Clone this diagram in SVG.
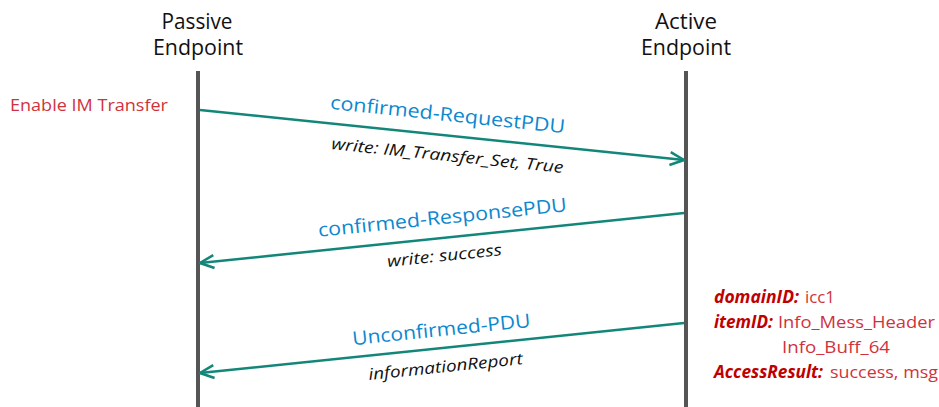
<svg xmlns="http://www.w3.org/2000/svg" width="939" height="407" viewBox="0 0 939 407">
<style>
.hdr{font-family:"Open Sans","DejaVu Sans",sans-serif;font-size:21px;fill:#111;text-anchor:middle}
.life{stroke:#555;stroke-width:4}
.msg{stroke:#13867a;stroke-width:2.5;fill:none}
.pdu{font-family:"Open Sans","DejaVu Sans",sans-serif;font-size:19px;fill:#0b88cf;text-anchor:middle}
.arg{font-family:"Open Sans","DejaVu Sans",sans-serif;font-size:16px;font-style:italic;fill:#111;text-anchor:middle}
.note{font-family:"Open Sans","DejaVu Sans",sans-serif;font-size:17px;fill:#d0323c}
.key{font-family:"Open Sans","DejaVu Sans",sans-serif;font-size:17px;font-weight:bold;font-style:italic;fill:#c00000}
</style>
<defs>
<marker id="open" viewBox="0 0 16 16" refX="15" refY="8" markerWidth="16" markerHeight="16" markerUnits="userSpaceOnUse" orient="auto">
<path d="M1,1.5 L15,8 L1,14.5" fill="none" stroke="#13867a" stroke-width="2.5"/>
</marker>
</defs>
<rect width="939" height="407" fill="#fff"/>
<g id="passive">
<text class="hdr" x="197" y="29" textLength="71" lengthAdjust="spacingAndGlyphs">Passive</text>
<text class="hdr" x="198" y="55" textLength="90" lengthAdjust="spacingAndGlyphs">Endpoint</text>
<line class="life" x1="198" y1="71" x2="198" y2="407"/>
</g>
<g id="active">
<text class="hdr" x="686" y="29" textLength="62" lengthAdjust="spacingAndGlyphs">Active</text>
<text class="hdr" x="686" y="55" textLength="90" lengthAdjust="spacingAndGlyphs">Endpoint</text>
<line class="life" x1="686" y1="71" x2="686" y2="407"/>
</g>
<g id="note-enable">
<text class="note" x="10" y="111" textLength="158" lengthAdjust="spacingAndGlyphs">Enable IM Transfer</text>
</g>
<g id="note-report">
<text class="key" x="714" y="303" textLength="85" lengthAdjust="spacingAndGlyphs">domainID:</text>
<text class="note" x="805" y="303" textLength="30" lengthAdjust="spacingAndGlyphs">icc1</text>
<text class="key" x="714" y="328" textLength="59" lengthAdjust="spacingAndGlyphs">itemID:</text>
<text class="note" x="778" y="328" textLength="157" lengthAdjust="spacingAndGlyphs">Info_Mess_Header</text>
<text class="note" x="782" y="353" textLength="108" lengthAdjust="spacingAndGlyphs">Info_Buff_64</text>
<text class="key" x="714" y="378" textLength="109" lengthAdjust="spacingAndGlyphs">AccessResult:</text>
<text class="note" x="830" y="378" textLength="108" lengthAdjust="spacingAndGlyphs">success, msg</text>
</g>
<g id="connectors">
<line class="msg" x1="200" y1="110" x2="684" y2="160" marker-end="url(#open)"/>
<line class="msg" x1="684" y1="213" x2="200" y2="263" marker-end="url(#open)"/>
<line class="msg" x1="684" y1="323" x2="200" y2="373" marker-end="url(#open)"/>
</g>
<g id="labels">
<text class="pdu" transform="translate(447,121) rotate(5.9)" textLength="236" lengthAdjust="spacingAndGlyphs">confirmed-RequestPDU</text>
<text class="arg" transform="translate(447,161) rotate(5.9)" textLength="233" lengthAdjust="spacingAndGlyphs">write: IM_Transfer_Set, True</text>
<text class="pdu" transform="translate(443,224) rotate(-5.9)" textLength="250" lengthAdjust="spacingAndGlyphs">confirmed-ResponsePDU</text>
<text class="arg" transform="translate(445,261) rotate(-5.9)" textLength="115" lengthAdjust="spacingAndGlyphs">write: success</text>
<text class="pdu" transform="translate(442,336) rotate(-5.9)" textLength="179" lengthAdjust="spacingAndGlyphs">Unconfirmed-PDU</text>
<text class="arg" transform="translate(446,372) rotate(-5.9)" textLength="155" lengthAdjust="spacingAndGlyphs">informationReport</text>
</g>
</svg>
